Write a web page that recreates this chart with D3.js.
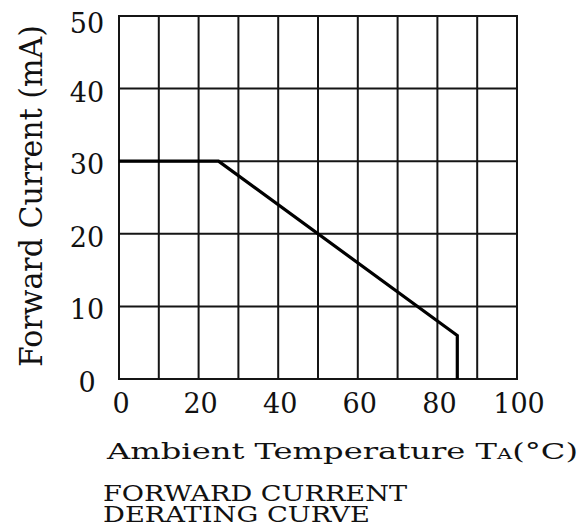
<html>
<head>
<script src="https://d3js.org/d3.v7.min.js"></script>
<style>
body { margin: 0; background: #fff; }
text { font-family: "DejaVu Serif", serif; fill: #111; }
</style>
</head>
<body>
<svg width="581" height="525"></svg>
<script>
// derating curve
var tempPoints = [0, 25, 85, 85];
var currentPoints = [30, 30, 6, 0];
var xTicks = [0, 10, 20, 30, 40, 50, 60, 70, 80, 90, 100];
var xLabels = [0, 20, 40, 60, 80, 100];
var yTicks = [0, 10, 20, 30, 40, 50];

var svg = d3.select("svg");
var xscale = d3.scaleLinear().domain([0, 100]).range([119, 517]);
var yscale = d3.scaleLinear().domain([0, 50]).range([379, 16]);

// grid
svg.append("g").selectAll("line.v").data(xTicks).enter().append("line")
    .attr("x1", function(d) { return xscale(d); })
    .attr("x2", function(d) { return xscale(d); })
    .attr("y1", yscale(0))
    .attr("y2", yscale(50))
    .attr("stroke", "#151515")
    .attr("stroke-width", 2);
svg.append("g").selectAll("line.h").data(yTicks).enter().append("line")
    .attr("x1", xscale(0) - 1)
    .attr("x2", xscale(100) + 1)
    .attr("y1", function(d) { return yscale(d); })
    .attr("y2", function(d) { return yscale(d); })
    .attr("stroke", "#151515")
    .attr("stroke-width", 2);

// curve
var pts = tempPoints.map(function(t, i) { return [t, currentPoints[i]]; });
var line = d3.line()
    .x(function(d) { return xscale(d[0]); })
    .y(function(d) { return yscale(d[1]); });
svg.append("path").datum(pts)
    .attr("d", line)
    .attr("fill", "none")
    .attr("stroke", "#000")
    .attr("stroke-width", 3.2)
    .attr("stroke-linejoin", "miter");

// tick labels
svg.selectAll("text.ylab").data(yTicks).enter().append("text")
    .attr("class", "ylab")
    .attr("x", 87)
    .attr("y", function(d) { return Math.max(yscale(d) + 13, 33); })
    .attr("text-anchor", "middle")
    .style("font-size", "27px")
    .text(function(d) { return d; });

svg.selectAll("text.xlab").data(xLabels).enter().append("text")
    .attr("class", "xlab")
    .attr("x", function(d) { return xscale(d) + 2; })
    .attr("y", 413)
    .attr("text-anchor", "middle")
    .style("font-size", "27px")
    .text(function(d) { return d; });

// axis titles
svg.append("text")
    .attr("transform", "translate(42,367) rotate(-90)")
    .attr("textLength", 342)
    .attr("lengthAdjust", "spacingAndGlyphs")
    .style("font-size", "32px")
    .text("Forward Current (mA)");

var t1 = svg.append("text")
    .attr("x", 107).attr("y", 459)
    .attr("textLength", 471)
    .attr("lengthAdjust", "spacingAndGlyphs")
    .style("font-size", "23px");
t1.append("tspan").text("Ambient Temperature T");
t1.append("tspan").style("font-size", "15px").text("A");
t1.append("tspan").text("(°C)");

svg.append("text")
    .attr("x", 103).attr("y", 501)
    .attr("textLength", 304)
    .attr("lengthAdjust", "spacingAndGlyphs")
    .style("font-size", "22px")
    .text("FORWARD CURRENT");

svg.append("text")
    .attr("x", 103).attr("y", 522)
    .attr("textLength", 267)
    .attr("lengthAdjust", "spacingAndGlyphs")
    .style("font-size", "22px")
    .text("DERATING CURVE");
</script>
</body>
</html>
